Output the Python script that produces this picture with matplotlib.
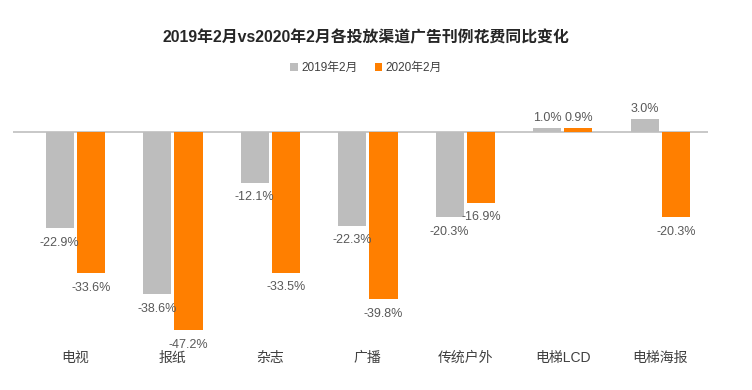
import numpy as np
import matplotlib.pyplot as plt

plt.rcParams['font.family'] = ['Liberation Sans', 'Noto Sans CJK SC', 'DejaVu Sans']

categories = ['电视', '报纸', '杂志', '广播', '传统户外', '电梯LCD', '电梯海报']
feb_2019 = [-22.9, -38.6, -12.1, -22.3, -20.3, 1.0, 3.0]
feb_2020 = [-33.6, -47.2, -33.5, -39.8, -16.9, 0.9, -20.3]
series_names = ['2019年2月', '2020年2月']

GRAY = '#BDBDBD'
ORANGE = '#FF7F00'

fig = plt.figure(figsize=(7.52, 3.9), dpi=100)
# axes: left 13px, right 708px, top 95px, bottom 340px
ax = fig.add_axes([13/752, 1 - 340/390, (708-13)/752, (340-95)/390])

x = np.arange(len(categories))
w = 0.29
off = 0.16
b1 = ax.bar(x - off, feb_2019, w, color=GRAY, label=series_names[0])
b2 = ax.bar(x + off, feb_2020, w, color=ORANGE, label=series_names[1])

ax.axhline(0, color='#BFBFBF', lw=1.2, zorder=0)

for bars, vals in ((b1, feb_2019), (b2, feb_2020)):
    for r, v in zip(bars, vals):
        cx = r.get_x() + r.get_width() / 2
        if v < 0:
            ax.annotate(f'{v:.1f}%', (cx, v), xytext=(0, -6), textcoords='offset points',
                        ha='center', va='top', fontsize=9, color='#595959')
        else:
            ax.annotate(f'{v:.1f}%', (cx, v), xytext=(0, 3), textcoords='offset points',
                        ha='center', va='bottom', fontsize=9, color='#595959')

ax.set_xlim(-0.64, 6.49)
ax.set_ylim(-49.5, 8.8)
ax.set_xticks(x)
ax.set_xticklabels(categories, fontsize=10, color='#404040')
ax.tick_params(axis='x', length=0, pad=8)
ax.set_yticks([])
for s in ax.spines.values():
    s.set_visible(False)

fig.text(0.487, 1 - 38/390, '2019年2月vs2020年2月各投放渠道广告刊例花费同比变化',
         ha='center', va='center', fontsize=11.4, fontweight='bold', color='#262626')

fig.legend(handles=[b1, b2], labels=series_names, loc='center', bbox_to_anchor=(0.487, 1 - 68/390),
           ncol=2, frameon=False, fontsize=8.5, handlelength=0.6, handleheight=0.6,
           handletextpad=0.3, columnspacing=1.5, labelcolor='#404040')

fig.savefig('out.png', dpi=100)
